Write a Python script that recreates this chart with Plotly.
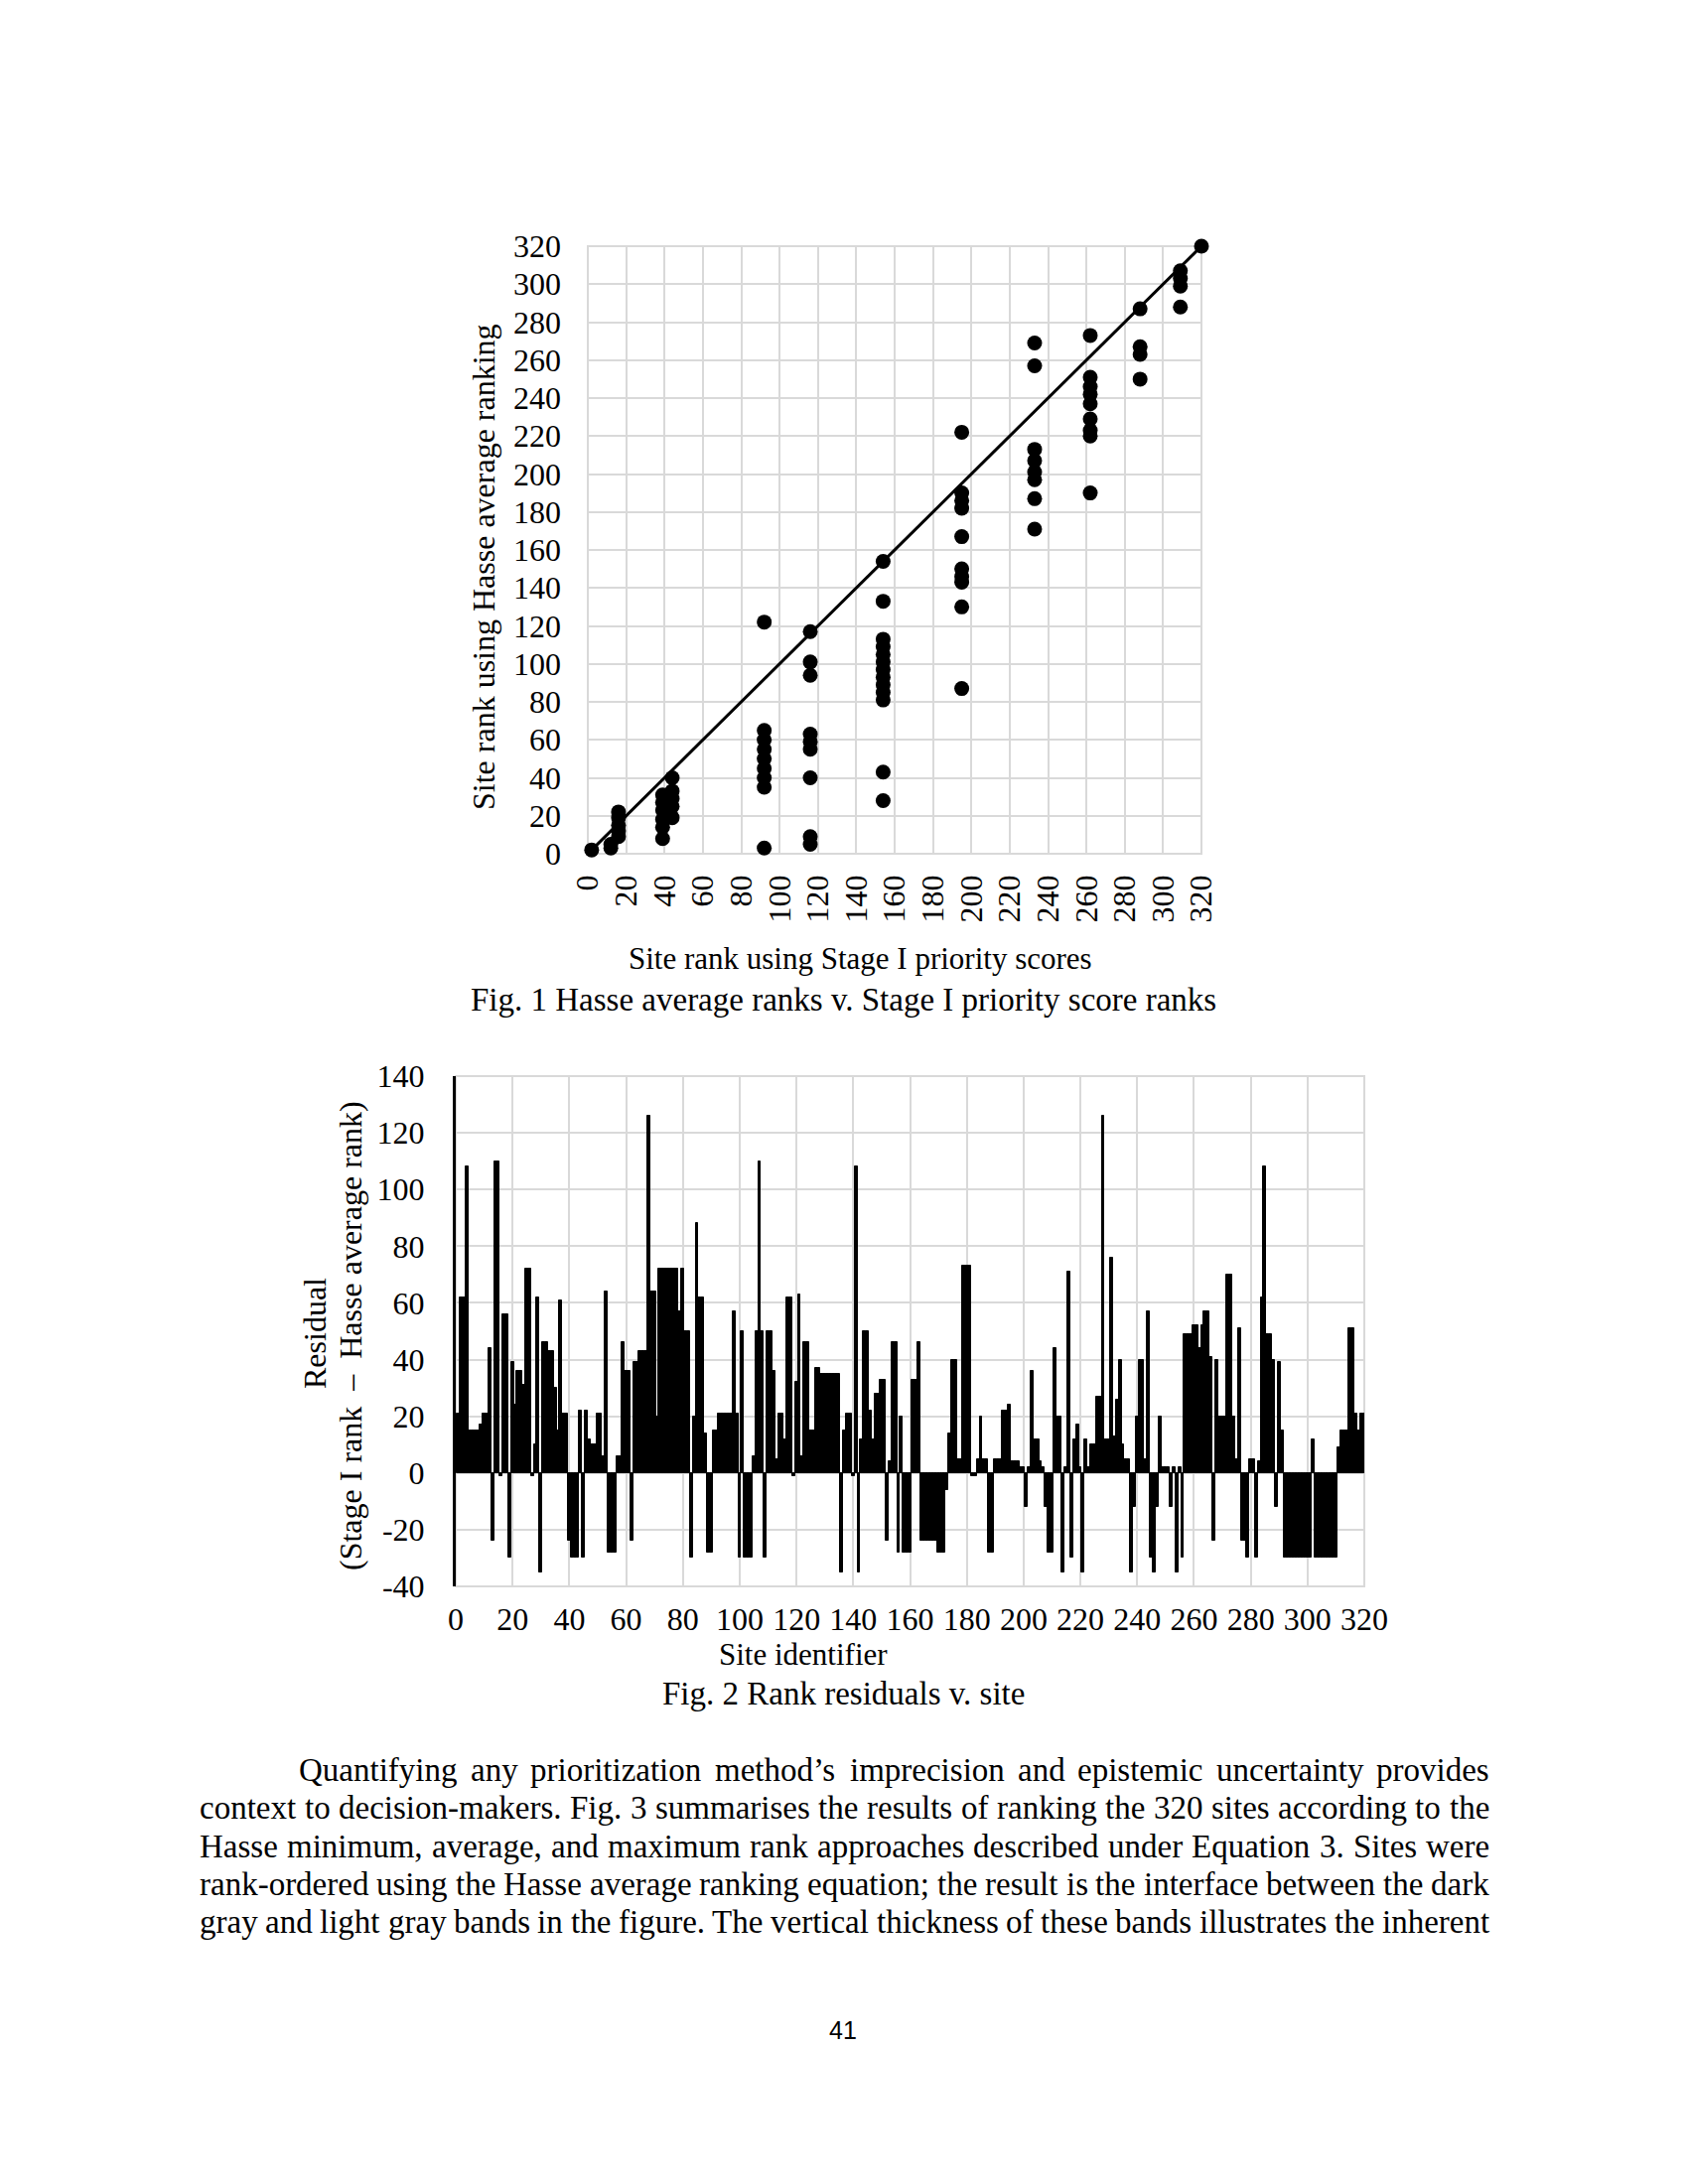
import plotly.graph_objects as go

# ---------------- Fig. 1 data ----------------
stage1_rank = (
    [2] + [12] * 2 + [16] * 5 + [39] * 6 + [44] * 5 + [92] * 9 + [116] * 9 +
    [154] * 13 + [195] * 10 + [233] * 8 + [262] * 9 + [288] * 4 + [309] * 4 + [320]
)
hasse_avg_rank = [
    2,
    3, 5,
    9, 12, 15, 19, 22,
    8, 14, 18, 23, 27, 31,
    19, 25, 29, 33, 40,
    3, 35, 40, 45, 50, 55, 60, 65, 122,
    5, 9, 40, 55, 59, 63, 94, 101, 117,
    28, 43, 81, 85, 89, 93, 97, 101, 105, 109, 113, 133, 154,
    87, 130, 143, 146, 150, 167, 182, 186, 190, 222,
    171, 187, 197, 201, 207, 213, 257, 269,
    190, 220, 223, 229, 237, 242, 246, 251, 273,
    250, 263, 267, 287,
    288, 299, 303, 307,
    320,
]
identity_line = [1, 320]
fig1_ticks = list(range(0, 321, 20))

# ---------------- Fig. 2 data ----------------
residual = [
    21, 62, 62, 108, 15, 15, 15, 15, 17, 21,
    21, 44, -24, 110, 110, -1, 56, 56, -30, 39,
    24, 36, 36, 31, 72, 72, -1, 10, 62, -35,
    46, 46, 43, 43, 30, 15, 61, 21, 21, -24,
    -30, -30, -30, 22, -30, 22, 12, 10, 10, 21,
    21, 6, 64, -28, -28, -28, 6, 6, 46, 36,
    36, -24, 39, 39, 43, 43, 43, 126, 64, 64,
    20, 72, 72, 72, 72, 72, 72, 72, 57, 72,
    50, 50, -30, 20, 88, 62, 62, 14, -28, -28,
    15, 15, 21, 21, 21, 21, 21, 57, 21, -30,
    50, -30, -30, -30, 6, 50, 110, 50, -30, 50,
    50, 36, 5, 21, 21, 12, 62, 62, -1, 32,
    63, 6, 46, 46, 15, 15, 37, 37, 35, 35,
    35, 35, 35, 35, 35, -35, 15, 21, 21, -1,
    108, -35, 12, 50, 50, 22, 12, 28, 28, 33,
    33, -24, 4, 46, 46, -28, 20, -28, -28, -28,
    33, 33, 46, -24, -24, -24, -24, -24, -24, -28,
    -28, -28, -6, 14, 40, 40, 5, 5, 73, 73,
    73, -1, -1, 5, 20, 5, 5, -28, -28, 5,
    5, 5, 22, 22, 24, 4, 4, 4, 2, 2,
    -12, 2, 36, 12, 12, 4, 2, -12, -28, -28,
    44, 20, 20, -35, 2, 71, -30, 12, 17, 2,
    -35, 12, 2, 10, 10, 27, 27, 126, 12, 12,
    76, 13, 26, 40, 10, 5, 5, -35, -12, 20,
    40, 40, 5, 57, -30, -35, -12, 20, 2, 2,
    2, -12, 2, -35, 2, -30, 49, 49, 49, 52,
    52, 44, 52, 57, 57, 41, -24, 40, 20, 20,
    20, 70, 70, 20, 5, 51, -24, -24, -30, 5,
    5, -30, 4, 62, 108, 49, 49, 40, -12, 39,
    15, -30, -30, -30, -30, -30, -30, -30, -30, -30,
    -30, 12, -30, -30, -30, -30, -30, -30, -30, -30,
    9, 15, 15, 15, 51, 51, 21, 15, 21, 21,
]
site_id = list(range(1, len(residual) + 1))
fig2_xticks = list(range(0, 321, 20))
fig2_yticks = list(range(-40, 141, 20))
fig2_yticktext = ["-40", "-20", "0", "20", "40", "60", "80", "100", "120", "140"]

body_lines = [
    "Quantifying any prioritization method\u2019s imprecision and epistemic uncertainty provides",
    "context to decision-makers. Fig. 3 summarises the results of ranking the 320 sites according to the",
    "Hasse minimum, average, and maximum rank approaches described under Equation 3. Sites were",
    "rank-ordered using the Hasse average ranking equation; the result is the interface between the dark",
    "gray and light gray bands in the figure. The vertical thickness of these bands illustrates the inherent",
]

# ---------------- page geometry helpers ----------------
W, H = 1700, 2200
OFF = 8  # the page body offsets the figure by 8 px
def px(x):
    return (x - OFF) / W
def py(y):
    return 1 - (y - OFF) / H

SERIF = "Liberation Serif"
GRID = "#d9d9d9"
tickfont = dict(family=SERIF, size=32, color="black")

# Times-compatible advance widths (1/1000 em) for justified body text
TW = {' ': 250, ',': 250, '.': 250, ';': 278, ':': 278, '-': 333, '\u2019': 333, "'": 333,
      '0': 500, '1': 500, '2': 500, '3': 500, '4': 500, '5': 500, '6': 500, '7': 500, '8': 500, '9': 500,
      'A': 722, 'B': 667, 'C': 667, 'D': 722, 'E': 611, 'F': 556, 'G': 722, 'H': 722, 'I': 333,
      'J': 389, 'K': 722, 'L': 611, 'M': 889, 'N': 722, 'O': 722, 'P': 556, 'Q': 722, 'R': 667,
      'S': 556, 'T': 611, 'U': 722, 'V': 722, 'W': 944, 'X': 722, 'Y': 722, 'Z': 611,
      'a': 444, 'b': 500, 'c': 444, 'd': 500, 'e': 444, 'f': 333, 'g': 500, 'h': 500, 'i': 278,
      'j': 278, 'k': 500, 'l': 278, 'm': 778, 'n': 500, 'o': 500, 'p': 500, 'q': 500, 'r': 333,
      's': 389, 't': 278, 'u': 500, 'v': 500, 'w': 722, 'x': 500, 'y': 500, 'z': 444}

def text_width(s, size):
    return sum(TW.get(c, 500) for c in s) * size / 1000.0

fig = go.Figure()
fig.add_trace(go.Scatter(
    x=stage1_rank, y=hasse_avg_rank, mode="markers",
    marker=dict(color="black", size=15), cliponaxis=False,
    xaxis="x", yaxis="y", hoverinfo="skip"))
fig.add_trace(go.Scatter(
    x=identity_line, y=identity_line, mode="lines",
    line=dict(color="black", width=3), cliponaxis=False,
    xaxis="x", yaxis="y", hoverinfo="skip"))
fig.add_trace(go.Bar(
    x=site_id, y=residual, width=1,
    marker=dict(color="black", line=dict(color="black", width=1)),
    xaxis="x2", yaxis="y2", hoverinfo="skip"))

axis_common = dict(showgrid=True, gridcolor=GRID, gridwidth=2, zeroline=False,
                   ticks="", tickfont=tickfont, fixedrange=True, automargin=False)

fig.update_layout(
    width=W, height=H,
    autosize=False,
    margin=dict(l=0, r=0, t=0, b=0, pad=0, autoexpand=False),
    paper_bgcolor="white", plot_bgcolor="white",
    showlegend=False, bargap=0,
    xaxis=dict(domain=[px(592), px(1210)], range=[0, 320], tickmode="array",
               tickvals=fig1_ticks, tickangle=-90, anchor="y",
               ticklabelstandoff=14, **axis_common),
    yaxis=dict(domain=[py(860), py(248)], range=[0, 320], tickmode="array",
               tickvals=fig1_ticks, anchor="x", ticklabelstandoff=26,
               **axis_common),
    xaxis2=dict(domain=[px(459), px(1374)], range=[0, 320], tickmode="array",
                tickvals=fig2_xticks, anchor="y2", ticklabelstandoff=11,
                **axis_common),
    yaxis2=dict(domain=[py(1598), py(1084)], range=[-40, 140], tickmode="array",
                tickvals=fig2_yticks, ticktext=fig2_yticktext, anchor="x2",
                ticklabelstandoff=22,
                showline=True, linecolor="black", linewidth=3,
                **axis_common),
)

fig.add_shape(type="rect", xref="x domain", yref="y domain", x0=0, x1=1, y0=0, y1=1,
              line=dict(color=GRID, width=2), layer="below")
fig.add_shape(type="rect", xref="x2 domain", yref="y2 domain", x0=0, x1=1, y0=0, y1=1,
              line=dict(color=GRID, width=2), layer="below")

def note(text, x, y, size=32, angle=0, xanchor="center", family=SERIF):
    fig.add_annotation(text=text, x=px(x), y=py(y), xref="paper", yref="paper",
                       showarrow=False, textangle=angle, xanchor=xanchor,
                       yanchor="middle", borderpad=0,
                       font=dict(family=family, size=size, color="black"))

# Fig. 1 titles
note("Site rank using Hasse average ranking", 487, 571, angle=-90)
note("Site rank using Stage I priority scores", 866, 965, size=31)
note("Fig. 1 Hasse average ranks v. Stage I priority score ranks", 849, 1007, size=33)

# Fig. 2 titles
note("Residual", 317, 1343, angle=-90)
note("(Stage I rank \u00a0\u2013\u00a0 Hasse average rank)", 353, 1346, angle=-90)
note("Site identifier", 809, 1666, size=31)
note("Fig. 2 Rank residuals v. site", 849, 1706, size=33)

# Body text, justified word by word between left edge and right margin
BODY_SIZE = 33
line_y = [1783, 1821, 1860, 1898, 1936]
line_x = [300, 200, 200, 200, 200]
RIGHT = 1499
for txt, lx, ly in zip(body_lines, line_x, line_y):
    words = txt.split(" ")
    widths = [text_width(w, BODY_SIZE) for w in words]
    gap = (RIGHT - lx - sum(widths)) / (len(words) - 1)
    cx = lx
    for w, wd in zip(words, widths):
        note(w, cx, ly, size=BODY_SIZE, xanchor="left")
        cx += wd + gap

note("41", 849, 2045, size=25, family="Liberation Sans")

fig.write_html("out.html")
